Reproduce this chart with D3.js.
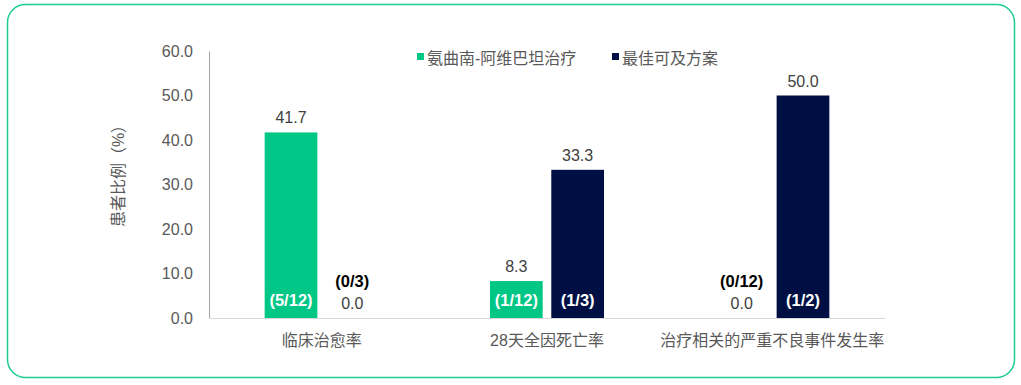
<!DOCTYPE html>
<html>
<head>
<meta charset="utf-8">
<script src="https://cdn.jsdelivr.net/npm/d3@7"></script>
<style>
  body { margin: 0; background: #fff; }
  text { font-family: Arial, "Liberation Sans", "Noto Sans CJK SC", sans-serif; }
</style>
</head>
<body>
<div class="chart"></div>
<script>
var categories = ["临床治愈率", "28天全因死亡率", "治疗相关的严重不良事件发生率"];
var seriesNames = ["氨曲南-阿维巴坦治疗", "最佳可及方案"];
var seriesA = [41.7, 8.3, 0.0];
var seriesB = [0.0, 33.3, 50.0];
var countsA = ["(5/12)", "(1/12)", "(0/12)"];
var countsB = ["(0/3)", "(1/3)", "(1/2)"];
var yTicks = [0, 10, 20, 30, 40, 50, 60];
var colors = ["#00c785", "#000f43"];

var svgWidth = 1021;
var svgHeight = 385;

var margin = {
  top: 51,
  right: 136,
  bottom: 67,
  left: 209
};

var width = svgWidth - margin.left - margin.right;
var height = svgHeight - margin.top - margin.bottom;

var svg = d3.select(".chart")
  .append("svg")
  .attr("width", svgWidth)
  .attr("height", svgHeight);

// card border
svg.append("rect")
  .attr("x", 7.5)
  .attr("y", 4.5)
  .attr("width", 1007)
  .attr("height", 373)
  .attr("rx", 18)
  .attr("fill", "none")
  .attr("stroke", "#1dcc94")
  .attr("stroke-width", 1.5);

var chartGroup = svg.append("g")
  .attr("transform", `translate(${margin.left}, ${margin.top})`);

var xScale = d3.scaleBand()
  .domain(categories)
  .range([0, width]);

var xInner = d3.scaleBand()
  .domain([0, 1])
  .range([xScale.bandwidth() / 2 - 57, xScale.bandwidth() / 2 + 57])
  .paddingInner(0.14);

var yScale = d3.scaleLinear()
  .domain([0, 60])
  .range([height, 0]);

// y axis
var leftAxis = d3.axisLeft(yScale)
  .tickValues(yTicks)
  .tickSize(0)
  .tickPadding(16)
  .tickFormat(d3.format(".1f"));

var yAxisG = chartGroup.append("g").call(leftAxis);
yAxisG.select(".domain").attr("stroke", "#a6a6a6");
yAxisG.selectAll("text")
  .attr("fill", "#595959")
  .style("font-size", "16px");

// x axis
var bottomAxis = d3.axisBottom(xScale)
  .tickSize(0)
  .tickPadding(17);

var xAxisG = chartGroup.append("g")
  .attr("transform", `translate(0, ${height})`)
  .call(bottomAxis);
xAxisG.select(".domain").attr("stroke", "#d9d9d9");
xAxisG.selectAll("text")
  .attr("fill", "#595959")
  .style("font-size", "16px");

// bars
var rows = categories.map(function(c, i) {
  return [
    { cat: c, s: 0, value: seriesA[i], count: countsA[i] },
    { cat: c, s: 1, value: seriesB[i], count: countsB[i] }
  ];
});

var groups = chartGroup.selectAll(".grp")
  .data(rows)
  .enter()
  .append("g")
  .attr("class", "grp")
  .attr("transform", d => `translate(${xScale(d[0].cat)}, 0)`);

var items = groups.selectAll(".item")
  .data(d => d)
  .enter()
  .append("g")
  .attr("class", "item");

items.append("rect")
  .attr("x", d => xInner(d.s))
  .attr("y", d => yScale(d.value))
  .attr("width", xInner.bandwidth())
  .attr("height", d => height - yScale(d.value))
  .attr("fill", d => colors[d.s]);

// value labels
items.append("text")
  .attr("x", d => xInner(d.s) + xInner.bandwidth() / 2)
  .attr("y", d => yScale(d.value) - 9)
  .attr("text-anchor", "middle")
  .attr("fill", "#404040")
  .style("font-size", "16px")
  .text(d => d3.format(".1f")(d.value));

// count labels
items.append("text")
  .attr("x", d => xInner(d.s) + xInner.bandwidth() / 2)
  .attr("y", d => d.value > 0 ? height - 12 : yScale(d.value) - 31)
  .attr("text-anchor", "middle")
  .attr("fill", d => d.value > 0 ? "#ffffff" : "#000000")
  .style("font-size", "16.5px")
  .style("font-weight", "bold")
  .text(d => d.count);

// legend
var legendX = [417, 612];
var legend = svg.selectAll(".legend")
  .data(seriesNames)
  .enter()
  .append("g")
  .attr("class", "legend")
  .attr("transform", (d, i) => `translate(${legendX[i]}, 53)`);

legend.append("rect")
  .attr("width", 7)
  .attr("height", 7)
  .attr("fill", (d, i) => colors[i]);

legend.append("text")
  .attr("x", 10)
  .attr("y", 11)
  .attr("fill", "#595959")
  .style("font-size", "16px")
  .text(d => d);

// y title
svg.append("text")
  .attr("transform", "translate(124, 172) rotate(-90)")
  .attr("text-anchor", "middle")
  .attr("fill", "#595959")
  .style("font-size", "16px")
  .text("患者比例（%）");
</script>
</body>
</html>
